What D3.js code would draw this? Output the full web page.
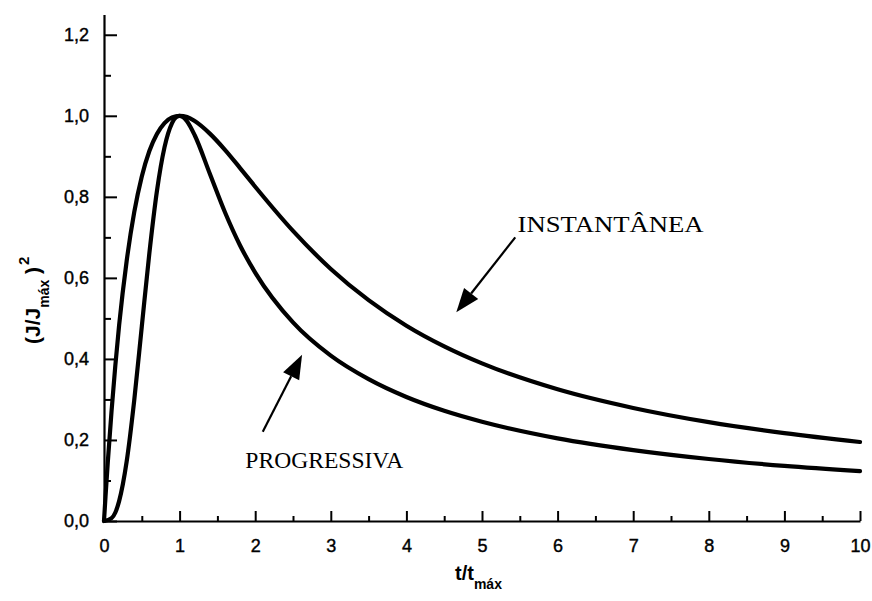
<!DOCTYPE html>
<html>
<head>
<meta charset="utf-8">
<script src="https://cdn.jsdelivr.net/npm/d3@7/dist/d3.min.js"></script>
<style>
  html, body { margin: 0; padding: 0; background: #fff; }
  svg { display: block; }
</style>
</head>
<body>
<svg id="chart" width="872" height="601"></svg>
<script>
// Normalised chronoamperometric transients (t/tmáx, (J/Jmáx)^2)
const instT = [0, 0.02, 0.05, 0.1, 0.15, 0.2, 0.3, 0.4, 0.5, 0.6, 0.7, 0.8, 0.9, 1.0, 1.1, 1.2, 1.4, 1.6, 1.8, 2.0, 2.5, 3, 3.5, 4, 4.5, 5, 6, 7, 8, 9, 10];
const instY = [0, 0.060, 0.145, 0.272, 0.384, 0.483, 0.642, 0.762, 0.850, 0.913, 0.955, 0.982, 0.996, 1.000, 0.997, 0.987, 0.956, 0.916, 0.871, 0.825, 0.716, 0.622, 0.545, 0.482, 0.431, 0.389, 0.325, 0.279, 0.244, 0.217, 0.195];

const progT = [0, 0.1, 0.15, 0.2, 0.3, 0.4, 0.5, 0.6, 0.7, 0.8, 0.9, 0.95, 1.0, 1.05, 1.1, 1.2, 1.4, 1.6, 1.8, 2.0, 2.5, 3, 3.5, 4, 4.5, 5, 6, 7, 8, 9, 10];
const progY = [0, 0.007, 0.021, 0.049, 0.147, 0.298, 0.480, 0.661, 0.814, 0.922, 0.982, 0.996, 1.000, 0.996, 0.986, 0.952, 0.857, 0.762, 0.680, 0.613, 0.490, 0.408, 0.350, 0.306, 0.272, 0.245, 0.204, 0.175, 0.153, 0.136, 0.123];

const xMajor = [0, 1, 2, 3, 4, 5, 6, 7, 8, 9, 10];
const xMinor = [0.5, 1.5, 2.5, 3.5, 4.5, 5.5, 6.5, 7.5, 8.5, 9.5];
const yMajor = [0, 0.2, 0.4, 0.6, 0.8, 1.0, 1.2];
const yMinor = [0.1, 0.3, 0.5, 0.7, 0.9, 1.1];

// Callouts: label text, label anchor and arrow (tail -> head) in data units
const callouts = [
  { text: "INSTANTÂNEA", lx: 5.47, ly: 0.714, width: 186, x1: 5.44, y1: 0.70, x2: 4.66, y2: 0.515 },
  { text: "PROGRESSIVA", lx: 1.87, ly: 0.130, width: 158, x1: 2.10, y1: 0.22, x2: 2.62, y2: 0.410 }
];

const svg = d3.select("#chart");
const x = d3.scaleLinear().domain([0, 10]).range([104, 860]);
const y = d3.scaleLinear().domain([0, 1.25]).range([521, 14.5]);

const pt = d3.formatLocale({ decimal: ",", thousands: ".", grouping: [3], currency: ["", ""] });
const fmt = pt.format(".1f");

const axisFont = "'Liberation Sans', Arial, sans-serif";

// y axis: ticks pointing into the plot
const gy = svg.append("g").attr("transform", `translate(${x(0)},0)`);
gy.call(d3.axisLeft(y).tickValues(yMajor).tickSizeInner(-13).tickSizeOuter(0).tickPadding(15).tickFormat(fmt));
gy.append("g").call(d3.axisLeft(y).tickValues(yMinor).tickSizeInner(-7).tickSizeOuter(0).tickFormat(""))
  .select(".domain").remove();

// x axis
const gx = svg.append("g").attr("transform", `translate(0,${y(0)})`);
gx.call(d3.axisBottom(x).tickValues(xMajor).tickSizeInner(-10).tickSizeOuter(0).tickPadding(18).tickFormat(d3.format("d")));
gx.append("g").call(d3.axisBottom(x).tickValues(xMinor).tickSizeInner(-5).tickSizeOuter(0).tickFormat(""))
  .select(".domain").remove();

svg.selectAll(".domain").attr("stroke", "#000").attr("stroke-width", 2.2);
svg.selectAll(".tick line").attr("stroke", "#000").attr("stroke-width", 2);
svg.selectAll(".tick text")
  .attr("font-family", axisFont).attr("font-size", 18).attr("fill", "#000")
  .attr("stroke", "#000").attr("stroke-width", 0.4);
gx.selectAll(".tick text").attr("dy", "0.71em");

// curves
const line = d3.line().x(d => x(d[0])).y(d => y(d[1])).curve(d3.curveMonotoneX);
const series = [d3.zip(instT, instY), d3.zip(progT, progY)];
svg.append("g").selectAll("path").data(series).join("path")
  .attr("d", line)
  .attr("fill", "none")
  .attr("stroke", "#000")
  .attr("stroke-width", 4.2)
  .attr("stroke-linejoin", "round")
  .attr("stroke-linecap", "round");

// callout arrows and labels
const ann = svg.append("g");
callouts.forEach(c => {
  const X1 = x(c.x1), Y1 = y(c.y1), X2 = x(c.x2), Y2 = y(c.y2);
  const ang = Math.atan2(Y2 - Y1, X2 - X1);
  const headLen = 24, headHalf = 9;
  const bx = X2 - headLen * Math.cos(ang), by = Y2 - headLen * Math.sin(ang);
  ann.append("line")
    .attr("x1", X1).attr("y1", Y1).attr("x2", bx).attr("y2", by)
    .attr("stroke", "#000").attr("stroke-width", 2.2);
  const nx = -Math.sin(ang), ny = Math.cos(ang);
  ann.append("path")
    .attr("d", `M${X2},${Y2}L${bx + nx * headHalf},${by + ny * headHalf}L${bx - nx * headHalf},${by - ny * headHalf}Z`)
    .attr("fill", "#000");
  ann.append("text")
    .attr("x", x(c.lx)).attr("y", y(c.ly))
    .attr("font-family", "'Liberation Serif', 'Times New Roman', serif")
    .attr("font-size", 24)
    .attr("textLength", c.width)
    .attr("lengthAdjust", "spacingAndGlyphs")
    .attr("fill", "#000")
    .text(c.text);
});

// axis titles
const xt = svg.append("text")
  .attr("x", 455).attr("y", 580)
  .attr("font-family", axisFont).attr("font-weight", "bold").attr("font-size", 20).attr("fill", "#000");
xt.append("tspan").text("t/t");
xt.append("tspan").attr("font-size", 14).attr("dy", 9).text("máx");

const yt = svg.append("text")
  .attr("transform", "translate(40,344) rotate(-90)")
  .attr("font-family", axisFont).attr("font-weight", "bold").attr("font-size", 21).attr("fill", "#000");
yt.append("tspan").text("(J/J");
yt.append("tspan").attr("font-size", 14).attr("dy", 9).text("máx");
yt.append("tspan").attr("dy", -9).text(" )");
yt.append("tspan").attr("font-size", 15).attr("dy", -11).attr("dx", 2).text("2");
</script>
</body>
</html>
